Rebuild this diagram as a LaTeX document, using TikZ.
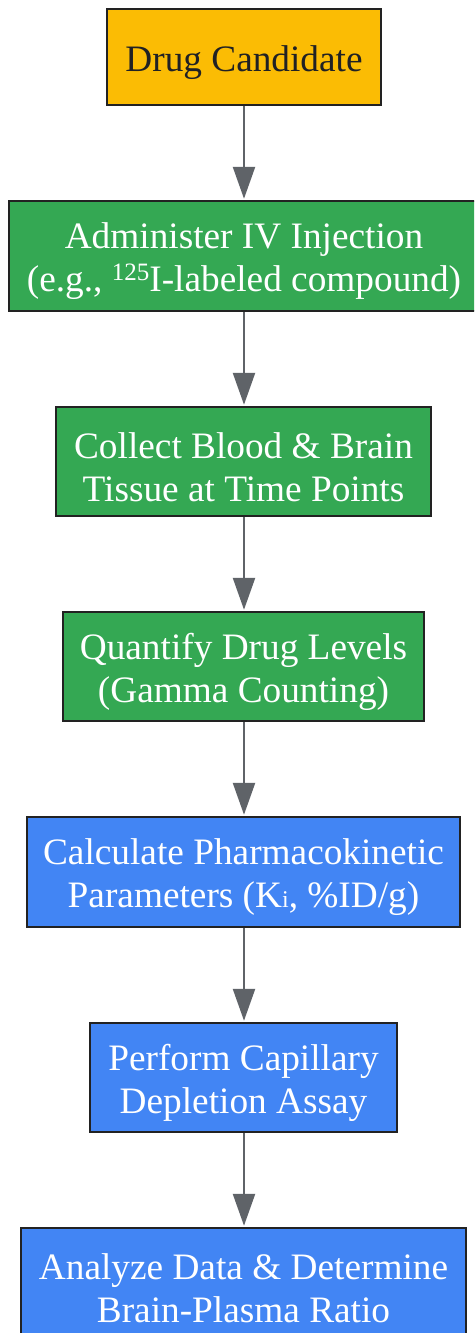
\documentclass[tikz,border=0pt]{standalone}
\usepackage{fontspec}
\setmainfont{Liberation Serif}
\usetikzlibrary{arrows.meta}
\definecolor{cyellow}{HTML}{FBBC04}
\definecolor{cgreen}{HTML}{34A853}
\definecolor{cblue}{HTML}{4285F4}
\definecolor{cborder}{HTML}{222222}
\definecolor{carrow}{HTML}{5F6368}
\definecolor{cdark}{HTML}{202124}
\tikzset{
  box/.style={draw=cborder, line width=2.5pt, rectangle, inner sep=0pt},
  txt/.style={inner sep=0pt, align=center, font=\fontsize{37.3}{43}\selectfont, text=white},
  flow/.style={draw=carrow, line width=2.5pt, -{Triangle[length=32pt,width=22pt]}, shorten >=1pt}
}
\newcommand{\supnum}[1]{\raisebox{11pt}{\fontsize{25}{25}\selectfont #1}}
\newcommand{\subi}{{\fontsize{24}{24}\selectfont i}}
\begin{document}
\begin{tikzpicture}[x=1pt,y=-1pt]
\clip (0,0) rectangle (474,1333);
\fill[white] (0,0) rectangle (474,1333);
\node[box, fill=cyellow, minimum width=274pt, minimum height=96pt] (n1) at (244,57) {};
\node[box, fill=cgreen, minimum width=470pt, minimum height=110pt] (n2) at (244,256) {};
\node[box, fill=cgreen, minimum width=375pt, minimum height=109pt] (n3) at (243.5,461.5) {};
\node[box, fill=cgreen, minimum width=361pt, minimum height=109pt] (n4) at (243.5,666.5) {};
\node[box, fill=cblue, minimum width=433pt, minimum height=110pt] (n5) at (243.5,872) {};
\node[box, fill=cblue, minimum width=307pt, minimum height=109pt] (n6) at (243.5,1077.5) {};
\node[box, fill=cblue, minimum width=445pt, minimum height=110pt] (n7) at (243.5,1283) {};
\node[txt, text=cdark] (t1) at ([yshift=-5.5pt]n1.center) {Drug Candidate};
\node[txt] (t2) at ([yshift=-5.5pt]n2.center) {Administer IV Injection\\(e.g., \supnum{125}I-labeled compound)};
\node[txt] (t3) at ([yshift=-5.5pt]n3.center) {Collect Blood \& Brain\\Tissue at Time Points};
\node[txt] (t4) at ([yshift=-5.5pt]n4.center) {Quantify Drug Levels\\(Gamma Counting)};
\node[txt] (t5) at ([yshift=-5.5pt]n5.center) {Calculate Pharmacokinetic\\Parameters (K\subi, \%ID/g)};
\node[txt] (t6) at ([yshift=-5.5pt]n6.center) {Perform Capillary\\Depletion Assay};
\node[txt] (t7) at ([yshift=-5.5pt]n7.center) {Analyze Data \& Determine\\Brain-Plasma Ratio};
\draw[flow] (n1.south -| 244,0) -- (n2.north -| 244,0);
\draw[flow] (n2.south -| 244,0) -- (n3.north -| 244,0);
\draw[flow] (n3.south -| 244,0) -- (n4.north -| 244,0);
\draw[flow] (n4.south -| 244,0) -- (n5.north -| 244,0);
\draw[flow] (n5.south -| 244,0) -- (n6.north -| 244,0);
\draw[flow] (n6.south -| 244,0) -- (n7.north -| 244,0);
\end{tikzpicture}
\end{document}
